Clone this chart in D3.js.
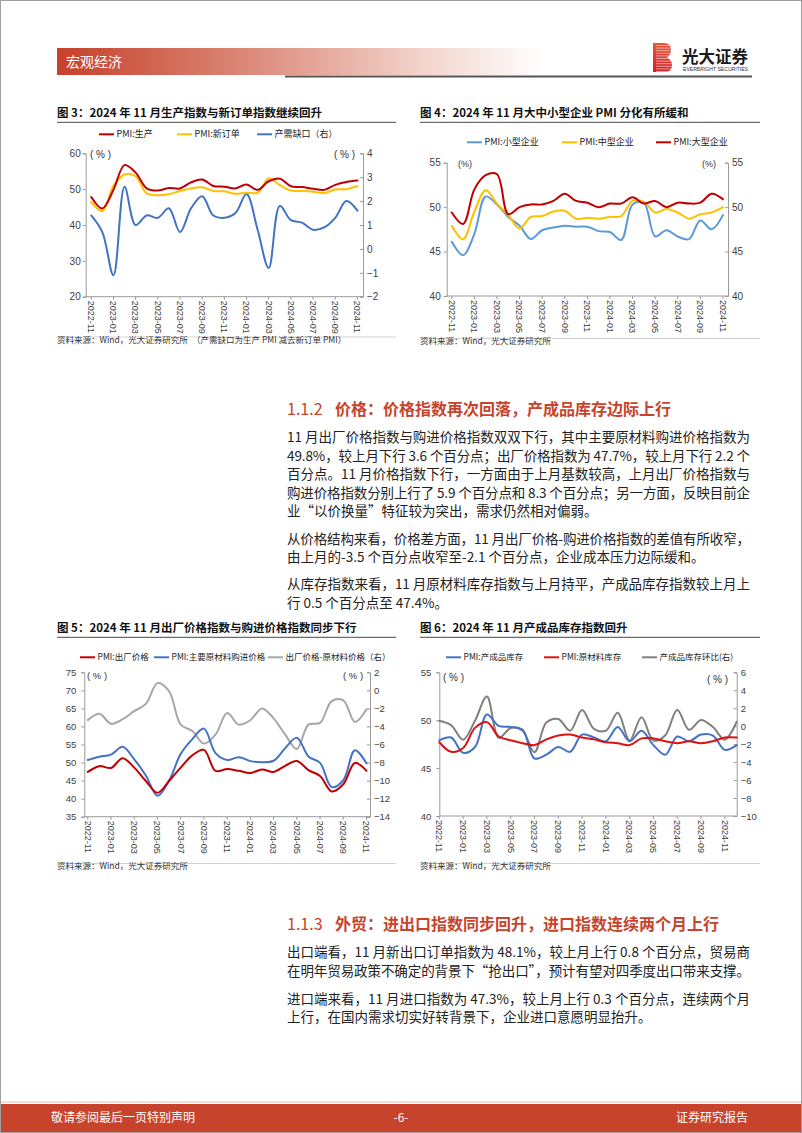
<!DOCTYPE html>
<html><head><meta charset="utf-8">
<script src="https://cdn.jsdelivr.net/npm/d3@7"></script>
<style>body{margin:0;background:#fff} svg{display:block}</style>
</head><body><svg id="page" width="802" height="1133"></svg>
<script>
// ---------------- DATA ----------------
const months = ["2022-11","2022-12","2023-01","2023-02","2023-03","2023-04","2023-05","2023-06","2023-07","2023-08","2023-09","2023-10","2023-11","2023-12","2024-01","2024-02","2024-03","2024-04","2024-05","2024-06","2024-07","2024-08","2024-09","2024-10","2024-11"];
// Fig 3
const pmiProduction = [47.8,44.6,49.8,56.7,54.6,50.2,49.6,50.3,50.2,51.9,52.7,50.9,50.7,50.2,51.3,49.8,52.2,52.9,50.8,50.6,50.1,49.8,51.2,52.0,52.4];
const pmiNewOrders  = [46.4,43.9,50.9,54.1,53.6,48.8,48.3,48.6,49.5,50.2,50.5,49.5,49.4,48.7,49.0,49.0,53.0,51.1,49.6,49.5,49.3,48.9,49.9,50.0,50.8];
const supplyDemandGap = [1.4,0.7,-1.1,2.6,1.0,1.4,1.3,1.7,0.7,1.7,2.2,1.4,1.3,1.5,2.3,0.8,-0.8,1.8,1.2,1.1,0.8,0.9,1.3,2.0,1.6];
// Fig 4
const pmiSmall  = [46.1,44.6,47.0,51.2,50.3,48.9,47.9,46.4,47.4,47.7,47.9,47.8,47.8,47.3,47.2,46.3,50.3,50.5,46.7,47.4,46.7,46.4,48.5,47.5,49.1];
const pmiMedium = [47.9,46.4,49.5,51.9,50.4,49.1,47.6,48.9,49.0,49.5,49.6,48.7,48.8,48.7,48.9,49.0,50.7,50.6,49.4,49.8,49.4,48.7,49.2,49.4,50.0];
const pmiLarge  = [49.4,48.1,52.0,53.6,53.7,49.2,50.0,50.3,50.3,50.7,51.5,50.7,50.5,50.0,50.4,50.4,51.1,50.4,50.7,50.0,50.5,50.4,50.5,51.5,50.9];
// Fig 5
const outputPrice = [47.4,49.0,48.5,51.2,48.6,44.9,41.6,44.9,48.6,52.0,53.5,47.7,48.2,47.7,47.1,48.1,47.4,49.1,50.4,47.9,46.3,42.0,44.0,49.9,47.7];
const inputPrice  = [50.7,51.6,52.2,54.4,50.9,46.4,40.8,45.0,52.4,56.5,59.4,52.6,50.7,51.5,50.4,50.1,50.5,54.0,56.9,51.7,49.9,43.2,45.1,53.4,49.8];
const priceSpread = [-3.3,-2.6,-3.7,-3.2,-2.3,-1.5,0.8,-0.1,-3.8,-4.5,-5.9,-4.9,-2.5,-3.8,-3.3,-2.0,-3.1,-4.9,-6.5,-3.8,-3.6,-1.2,-1.1,-3.5,-2.1];
// Fig 6 (26 points, axis labels as printed on the reference)
const months6 = ["2022-10","2022-11","2022-12","2023-01","2023-02","2023-03","2023-04","2023-05","2023-06","2023-07","2023-08","2023-09","2023-10","2023-11","2023-12","2024-01","2024-02","2024-03","2024-04","2024-05","2024-06","2024-07","2024-08","2024-09","2024-10","2024-11"];
const tickLabels6 = ["2022-11","2023-01","2023-03","2023-05","2023-07","2023-09","2023-11","2024-01","2024-03","2024-05","2024-07","2024-09","2024-11"];
const finishedInv = [47.9,48.2,46.6,47.2,50.6,49.4,49.3,49.0,46.0,46.4,47.2,46.7,48.5,48.2,47.8,49.3,47.8,48.9,47.4,46.4,48.3,47.8,48.5,48.4,46.9,47.4];
const rawInv      = [47.7,46.7,47.1,49.2,49.8,48.3,47.9,47.6,47.4,48.0,48.4,48.5,48.2,48.0,47.7,47.6,47.4,48.1,48.1,47.8,47.6,47.8,47.6,47.8,48.2,48.2];
const finishedMoM = [0.6,0.1,-1.5,0.6,3.3,-1.3,-0.2,-0.5,-2.9,0.4,0.8,-0.5,1.8,-0.3,-0.5,1.5,-1.6,1.0,-1.6,-1.0,1.8,-0.4,0.7,-0.1,-1.5,0.5];

// ---------------- PAGE ----------------
const svg = d3.select("#page");
const CJK = "'Noto Sans CJK SC','Noto Sans',sans-serif";
const LAT = "'Liberation Sans',Arial,'Noto Sans CJK SC',sans-serif";
const RED = "#c8432b";
const defs = svg.append("defs");

svg.append("rect").attr("x",0.5).attr("y",0.5).attr("width",801).attr("height",1132)
  .attr("fill","#fff").attr("stroke","#a0a0a0");

// header
const hg = defs.append("linearGradient").attr("id","hdr").attr("x1",0).attr("x2",1);
hg.append("stop").attr("offset",0).attr("stop-color","#c6402a");
hg.append("stop").attr("offset",0.35).attr("stop-color","#d98070");
hg.append("stop").attr("offset",0.75).attr("stop-color","#f2d3cb");
hg.append("stop").attr("offset",1).attr("stop-color","#ffffff");
svg.append("rect").attr("x",57).attr("y",48).attr("width",485).attr("height",27).attr("fill","url(#hdr)");
svg.append("text").attr("x",66).attr("y",67).text("宏观经济").attr("fill","#fff")
  .attr("font-family",CJK).attr("font-size",14);
svg.append("rect").attr("x",285).attr("y",75.5).attr("width",467).attr("height",2).attr("fill","#555");
// logo
const lg = defs.append("linearGradient").attr("id","logo").attr("x1",0).attr("x2",0).attr("y1",0).attr("y2",1);
lg.append("stop").attr("offset",0).attr("stop-color","#e9553a");
lg.append("stop").attr("offset",1).attr("stop-color","#d21f2b");
const bPath = "M653,43 H664 Q671,43 671,50 Q671,55 667,57.5 Q672,60 672,65 Q672,72 665,72 H653 Z";
defs.append("clipPath").attr("id","bclip").append("path").attr("d",bPath);
svg.append("path").attr("d",bPath).attr("fill","url(#logo)");
const stripes = svg.append("g").attr("clip-path","url(#bclip)");
d3.range(45.5,72,2.6).forEach(y=>stripes.append("line").attr("x1",656).attr("x2",673).attr("y1",y).attr("y2",y)
  .attr("stroke","#fff").attr("stroke-width",0.7).attr("opacity",0.8));
svg.append("text").attr("x",682).attr("y",63).text("光大证券").attr("font-family",CJK)
  .attr("font-weight",700).attr("font-size",16.5).attr("fill","#1a1a1a");
svg.append("text").attr("x",683).attr("y",70.5).text("EVERBRIGHT SECURITIES").attr("font-family",LAT)
  .attr("font-size",4.6).attr("fill","#333").attr("textLength",65).attr("lengthAdjust","spacingAndGlyphs");

// footer
svg.append("rect").attr("x",1).attr("y",1101.5).attr("width",800).attr("height",1).attr("fill","#e9b7aa");
svg.append("rect").attr("x",1).attr("y",1104).attr("width",800).attr("height",28).attr("fill",RED);
[["敬请参阅最后一页特别声明",51,"start"],["-6-",401,"middle"],["证券研究报告",748,"end"]].forEach(([t,x,a])=>
  svg.append("text").attr("x",x).attr("y",1122).attr("text-anchor",a).text(t)
    .attr("font-family",CJK).attr("font-size",12).attr("fill","#fff"));

// ---------------- TEXT ----------------
function heading(num, txt, y){
  svg.append("text").attr("x",287).attr("y",y).text(num).attr("font-family",CJK)
    .attr("font-size",16).attr("fill",RED);
  svg.append("text").attr("x",335).attr("y",y).text(txt).attr("font-family",CJK)
    .attr("font-size",16).attr("font-weight",700).attr("fill",RED);
}
function para(lines, y0){
  lines.forEach(([t,full],i)=>{
    const el = svg.append("text").attr("x",287).attr("y",y0+i*18.5).text(t)
      .attr("font-family",CJK).attr("font-size",13.5).attr("fill","#222");
    if(full) el.attr("textLength",463).attr("lengthAdjust","spacing");
  });
}
heading("1.1.2","价格：价格指数再次回落，产成品库存边际上行",414.6);
para([["11 月出厂价格指数与购进价格指数双双下行，其中主要原材料购进价格指数为",1],
      ["49.8%，较上月下行 3.6 个百分点；出厂价格指数为 47.7%，较上月下行 2.2 个",1],
      ["百分点。11 月价格指数下行，一方面由于上月基数较高，上月出厂价格指数与",1],
      ["购进价格指数分别上行了 5.9 个百分点和 8.3 个百分点；另一方面，反映目前企",1],
      ["业“以价换量”特征较为突出，需求仍然相对偏弱。",0]],442.4);
para([["从价格结构来看，价格差方面，11 月出厂价格-购进价格指数的差值有所收窄，",1],
      ["由上月的-3.5 个百分点收窄至-2.1 个百分点，企业成本压力边际缓和。",0]],543.7);
para([["从库存指数来看，11 月原材料库存指数与上月持平，产成品库存指数较上月上",1],
      ["行 0.5 个百分点至 47.4%。",0]],589);
heading("1.1.3","外贸：进出口指数同步回升，进口指数连续两个月上行",929.6);
para([["出口端看，11 月新出口订单指数为 48.1%，较上月上行 0.8 个百分点，贸易商",1],
      ["在明年贸易政策不确定的背景下“抢出口”，预计有望对四季度出口带来支撑。",1]],957);
para([["进口端来看，11 月进口指数为 47.3%，较上月上行 0.3 个百分点，连续两个月",1],
      ["上行，在国内需求切实好转背景下，企业进口意愿明显抬升。",0]],1003.7);

// ---------------- CHARTS ----------------
function chart(o){
  const g = svg.append("g");
  // title
  g.append("text").attr("x",o.tx).attr("y",o.ty).text(o.title).attr("font-family",CJK)
    .attr("font-weight",700).attr("font-size",11.5).attr("fill","#111");
  g.append("line").attr("x1",o.tx).attr("x2",o.tx2).attr("y1",o.ty+5).attr("y2",o.ty+5)
    .attr("stroke","#333").attr("stroke-width",0.9);
  // source
  g.append("line").attr("x1",o.tx).attr("x2",o.tx2).attr("y1",o.sy-5.5).attr("y2",o.sy-5.5)
    .attr("stroke","#c8c8c8").attr("stroke-width",0.8);
  g.append("text").attr("x",o.tx).attr("y",o.sy).text(o.source).attr("font-family",CJK)
    .attr("font-size",8.5).attr("fill","#333");
  // legend
  o.legend.forEach(l=>{
    g.append("line").attr("x1",l.x).attr("x2",l.x+15).attr("y1",o.ly).attr("y2",o.ly)
      .attr("stroke",l.c).attr("stroke-width",2);
    g.append("text").attr("x",l.x+17.5).attr("y",o.ly).attr("dy","0.35em").text(l.t)
      .attr("font-family",CJK).attr("font-size",o.lfs||9).attr("fill","#222");
  });
  const x = d3.scalePoint().domain(d3.range(o.n)).range([o.x0,o.x1]).padding(o.pad);
  const yL = d3.scaleLinear().domain(o.yL).range([o.y1,o.y0]);
  const yR = d3.scaleLinear().domain(o.yR).range([o.y1,o.y0]);
  const fmt = d3.format("d");
  const style = sel=>{
    sel.select(".domain").attr("stroke","#9a9a9a");
    sel.selectAll(".tick line").attr("stroke","#9a9a9a");
    sel.selectAll("text").attr("font-family",LAT).attr("font-size",o.afs||10).attr("fill","#404040");
  };
  g.append("g").attr("transform",`translate(${o.x0},0)`)
    .call(d3.axisLeft(yL).tickValues(o.yLt).tickFormat(fmt).tickSizeOuter(0).tickSize(3).tickPadding(o.lpad||2)).call(style);
  g.append("g").attr("transform",`translate(${o.x1},0)`)
    .call(d3.axisRight(yR).tickValues(o.yRt).tickFormat(fmt).tickSizeOuter(0).tickSize(-3).tickPadding(o.rpad||4)).call(style);
  // x axis
  const xa = g.append("g");
  xa.append("line").attr("x1",o.x0).attr("x2",o.x1).attr("y1",o.y1).attr("y2",o.y1).attr("stroke","#9a9a9a");
  o.xt.forEach(([i,lab])=>{
    xa.append("line").attr("x1",x(i)).attr("x2",x(i)).attr("y1",o.y1).attr("y2",o.y1+3).attr("stroke","#9a9a9a");
    xa.append("text").attr("transform",`translate(${x(i)},${o.y1+4}) rotate(90)`).attr("dy","0.35em")
      .text(lab).attr("font-family",LAT).attr("font-size",9).attr("fill","#404040");
  });
  // percent labels
  o.pct.forEach(([px,py,t,fs])=>g.append("text").attr("x",px).attr("y",py).attr("dy","0.35em").text(t)
    .attr("font-family",LAT).attr("font-size",fs).attr("fill","#333"));
  // series
  o.series.forEach(s=>{
    const ys = s.axis==="R"?yR:yL;
    const line = d3.line().x((d,i)=>x(i)).y(d=>ys(d)).curve(d3.curveCatmullRom.alpha(0.5));
    g.append("path").attr("d",line(s.v)).attr("fill","none").attr("stroke",s.c)
      .attr("stroke-width",s.w||2).attr("stroke-linejoin","round").attr("stroke-linecap","round");
  });
}
const odd = months.map((m,i)=>[i,m]).filter(d=>d[0]%2===0);

chart({title:"图 3：2024 年 11 月生产指数与新订单指数继续回升",tx:57,tx2:396,ty:117.3,
  source:"资料来源：Wind，光大证券研究所　（产需缺口为生产 PMI 减去新订单 PMI）",sy:342.5,
  ly:134.3,legend:[{x:99,c:"#c00000",t:"PMI:生产"},{x:177,c:"#ffc000",t:"PMI:新订单"},{x:257,c:"#4472c4",t:"产需缺口（右）"}],
  n:25,pad:0.5,x0:85.7,x1:363,y0:153.3,y1:296.7,yL:[20,60],yLt:[20,30,40,50,60],yR:[-2,4],yRt:[-2,-1,0,1,2,3,4],
  xt:odd,pct:[[90,154,"( % )",10],[334,154,"( % )",10]],
  series:[{v:supplyDemandGap,c:"#4472c4",axis:"R"},{v:pmiNewOrders,c:"#ffc000"},{v:pmiProduction,c:"#c00000"}]});

chart({title:"图 4：2024 年 11 月大中小型企业 PMI 分化有所缓和",tx:420,tx2:760,ty:117.3,
  source:"资料来源：Wind，光大证券研究所",sy:344,
  ly:142.3,legend:[{x:467,c:"#5b9bd5",t:"PMI:小型企业"},{x:562,c:"#ffc000",t:"PMI:中型企业"},{x:656,c:"#c00000",t:"PMI:大型企业"}],
  n:25,pad:0.45,x0:446.7,x1:728,y0:162.7,y1:296,yL:[40,55],yLt:[40,45,50,55],yR:[40,55],yRt:[40,45,50,55],
  lpad:3,
  xt:odd,pct:[[458,163.5,"(%)",9],[702,163.5,"(%)",9]],
  series:[{v:pmiSmall,c:"#5b9bd5"},{v:pmiMedium,c:"#ffc000"},{v:pmiLarge,c:"#c00000"}]});

chart({title:"图 5：2024 年 11 月出厂价格指数与购进价格指数同步下行",tx:57,tx2:396,ty:632.3,
  source:"资料来源：Wind，光大证券研究所",sy:869,
  ly:657.3,lfs:8.5,legend:[{x:80,c:"#c00000",t:"PMI:出厂价格"},{x:154,c:"#4472c4",t:"PMI:主要原材料购进价格"},{x:268,c:"#a6a6a6",t:"出厂价格-原材料价格（右）"}],
  n:25,pad:0.3,x0:84.3,x1:370,y0:672.3,y1:816.7,yL:[35,75],yLt:[35,40,45,50,55,60,65,70,75],yR:[-14,2],yRt:[-14,-12,-10,-8,-6,-4,-2,0,2],
  afs:9.5,lpad:5,
  xt:odd,pct:[[87,676,"( % )",9.5],[343,676,"( % )",9.5]],
  series:[{v:priceSpread,c:"#a6a6a6",axis:"R"},{v:inputPrice,c:"#4472c4"},{v:outputPrice,c:"#c00000"}]});

chart({title:"图 6：2024 年 11 月产成品库存指数回升",tx:420,tx2:760,ty:632.3,
  source:"资料来源：Wind，光大证券研究所",sy:869,
  ly:657.3,lfs:8.5,legend:[{x:446,c:"#4472c4",t:"PMI:产成品库存"},{x:544,c:"#e01010",t:"PMI:原材料库存"},{x:642,c:"#7f7f7f",t:"产成品库存环比(右)"}],
  n:26,pad:0,x0:439.3,x1:736.7,y0:672.3,y1:816,yL:[40,55],yLt:[40,45,50,55],yR:[-10,6],yRt:[-10,-8,-6,-4,-2,0,2,4,6],
  afs:9.5,lpad:5,
  xt:tickLabels6.map((t,k)=>[k*2,t]),pct:[[443,677,"( % )",10],[707,679,"( % )",10]],
  series:[{v:finishedMoM,c:"#7f7f7f",axis:"R"},{v:finishedInv,c:"#4472c4"},{v:rawInv,c:"#e01010"}]});
</script></body></html>
